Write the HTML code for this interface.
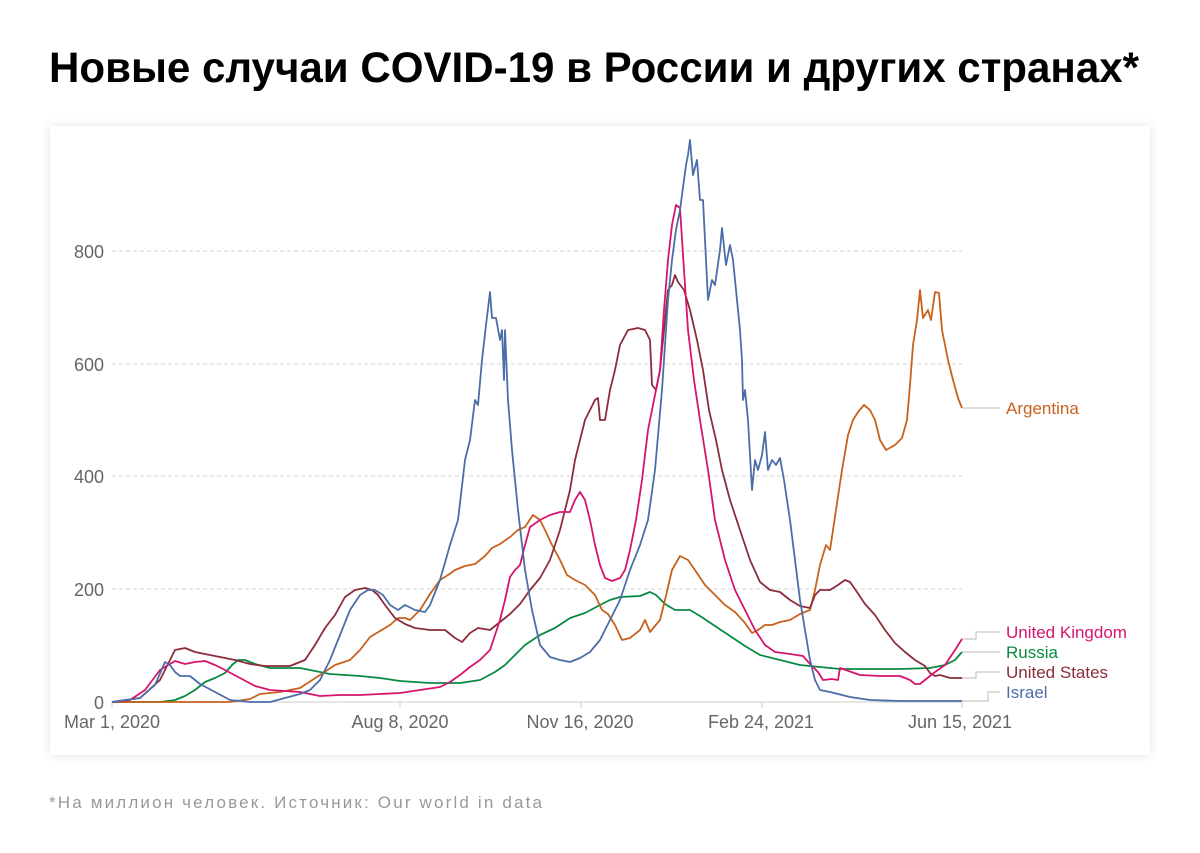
<!DOCTYPE html>
<html><head><meta charset="utf-8"><style>
html,body{margin:0;padding:0;background:#fff;width:1200px;height:853px;overflow:hidden}
svg{display:block}
</style></head><body>
<svg width="1200" height="853" viewBox="0 0 1200 853" xmlns="http://www.w3.org/2000/svg" font-family="Liberation Sans, DejaVu Sans, sans-serif">
<defs><filter id="sh" x="-5%" y="-5%" width="110%" height="110%"><feGaussianBlur stdDeviation="5"/></filter></defs>
<text x="49" y="82" font-size="43" font-weight="bold" fill="#000" textLength="1090" lengthAdjust="spacingAndGlyphs">Новые случаи COVID-19 в России и других странах*</text>
<rect x="50" y="127" width="1100" height="628" fill="#000" opacity="0.12" filter="url(#sh)"/>
<rect x="50" y="126" width="1100" height="629" fill="#fff"/>
<g stroke="#d6d6d6" stroke-dasharray="4,3" stroke-width="1">
<line x1="112" y1="251" x2="962" y2="251"/><line x1="112" y1="364" x2="962" y2="364"/>
<line x1="112" y1="476" x2="962" y2="476"/><line x1="112" y1="589" x2="962" y2="589"/>
</g>
<line x1="112" y1="702" x2="962" y2="702" stroke="#ccc"/>
<g stroke="#ccc"><line x1="112" y1="702" x2="112" y2="708"/><line x1="400" y1="702" x2="400" y2="708"/><line x1="581" y1="702" x2="581" y2="708"/><line x1="762" y1="702" x2="762" y2="708"/><line x1="962" y1="702" x2="962" y2="708"/></g>
<g fill="#666" font-size="18" text-anchor="end">
<text x="104" y="258">800</text><text x="104" y="371">600</text><text x="104" y="483">400</text><text x="104" y="596">200</text><text x="104" y="709">0</text></g>
<g fill="#666" font-size="18" text-anchor="middle">
<text x="112" y="728">Mar 1, 2020</text><text x="400" y="728">Aug 8, 2020</text><text x="580" y="728">Nov 16, 2020</text><text x="761" y="728">Feb 24, 2021</text><text x="960" y="728">Jun 15, 2021</text></g>
<g fill="none" stroke-width="1.8" stroke-linejoin="round">
<polyline stroke="#0a8a40" points="112,702 160,702 175,700 185,696 195,690 205,682 215,678 225,673 232,665 238,660 245,660 255,664 270,668 300,668 310,670 330,674 360,676 380,678 400,681 430,683 460,683 480,680 495,672 505,665 515,655 525,645 540,635 555,628 570,618 585,613 600,605 610,600 620,597 640,596 650,592 656,595 665,604 675,610 690,610 700,616 715,626 730,636 745,646 760,655 780,660 800,665 820,667 840,669 870,669 900,669 930,668 945,665 955,660 962,652"/>
<polyline stroke="#c8611c" points="112,702 230,702 250,699 260,694 280,692 300,688 320,675 335,665 350,660 360,650 370,637 380,631 390,625 398,618 405,618 410,620 420,610 430,594 440,580 448,575 455,570 465,566 475,564 485,556 492,548 500,544 510,537 518,530 525,527 533,515 540,520 545,530 552,545 560,560 567,575 575,580 585,585 595,595 602,610 608,614 615,625 622,640 630,638 640,630 645,620 650,632 660,620 665,600 672,570 680,556 688,560 695,570 705,585 715,595 725,605 735,612 745,623 752,633 758,630 765,625 772,625 780,622 790,620 800,614 810,610 815,590 820,565 826,545 830,550 836,510 842,470 848,435 853,420 858,412 864,405 870,410 875,420 880,440 886,450 895,445 902,438 907,420 910,385 913,345 917,320 920,290 923,318 928,310 931,320 935,292 939,293 942,330 948,360 953,380 958,398 962,408"/>
<polyline stroke="#8b2d3a" points="112,702 140,698 160,680 175,650 185,648 195,652 210,655 225,658 235,660 250,664 265,666 290,666 305,660 315,645 325,628 335,615 345,597 355,590 365,588 372,590 378,595 385,605 395,618 405,624 415,628 430,630 445,630 455,638 462,642 470,633 478,628 490,630 500,622 510,614 520,604 530,590 540,578 550,560 560,530 570,490 575,460 580,440 585,420 590,410 595,400 598,398 600,420 605,420 610,390 615,370 620,345 628,330 638,328 645,330 650,340 652,385 656,390 660,370 664,330 668,290 672,285 675,275 678,282 684,290 690,310 697,340 703,370 709,410 716,440 722,470 730,500 740,530 750,560 760,582 770,590 780,592 790,600 800,606 810,608 815,595 820,590 830,590 838,585 845,580 850,582 857,592 865,604 875,615 885,630 895,643 905,652 915,660 925,666 930,673 935,676 940,675 950,678 962,678"/>
<polyline stroke="#d6146e" points="112,702 130,700 145,690 160,670 175,661 185,664 195,662 205,661 215,665 225,670 240,678 255,686 270,690 285,691 300,692 310,694 320,696 340,695 360,695 380,694 400,693 420,690 440,687 450,682 460,675 470,667 480,660 490,650 495,635 500,620 505,600 510,577 515,570 520,565 525,545 530,527 540,520 550,515 560,512 570,512 575,500 580,492 585,500 590,520 595,545 600,565 605,578 612,581 620,578 625,570 630,550 636,520 642,480 648,430 652,410 656,390 660,370 664,310 668,260 672,225 676,205 680,208 684,270 688,330 694,380 700,420 708,470 715,520 725,560 735,590 745,610 755,630 765,645 775,652 790,654 803,656 810,664 818,672 823,680 832,679 838,680 840,668 860,675 880,676 900,676 910,680 915,684 920,684 925,680 935,672 945,665 955,650 962,639"/>
<polyline stroke="#4c6ea8" points="112,702 140,698 155,685 165,662 170,665 175,672 180,676 190,676 200,684 215,692 230,700 250,702 270,702 285,698 300,694 310,690 320,680 330,660 340,635 350,610 360,595 368,590 375,590 383,595 390,605 398,610 405,605 415,610 425,612 430,605 440,580 450,545 458,520 465,460 470,440 475,400 478,405 482,360 486,325 490,292 492,318 496,318 500,340 502,330 504,380 505,330 508,400 512,450 518,510 525,570 532,610 540,645 550,657 560,660 570,662 580,658 590,652 600,640 610,620 620,600 630,570 640,545 648,520 655,470 662,390 668,300 672,260 676,230 680,210 684,180 686,165 688,155 690,140 693,175 697,160 700,200 703,200 706,260 708,300 712,280 715,285 720,250 722,228 726,265 730,245 733,260 736,290 740,330 742,360 743,400 745,390 748,420 752,490 755,460 758,470 762,455 765,432 768,470 772,460 776,465 780,458 784,480 790,520 795,560 800,600 805,630 810,660 815,680 820,690 830,692 850,697 870,700 900,701 962,701"/>
</g>
<g fill="none" stroke="#bbb" stroke-width="1">
<polyline points="962,408 1000,408"/>
<polyline points="962,639 976,639 976,632 1000,632"/>
<polyline points="962,652 1000,652"/>
<polyline points="962,678 976,678 976,672 1000,672"/>
<polyline points="962,701 988,701 988,692 1000,692"/>
</g>
<g font-size="17">
<text x="1006" y="414" fill="#c8611c">Argentina</text>
<text x="1006" y="638" fill="#d6146e">United Kingdom</text>
<text x="1006" y="658" fill="#0a8a40">Russia</text>
<text x="1006" y="678" fill="#8b2d3a">United States</text>
<text x="1006" y="698" fill="#4c6ea8">Israel</text>
</g>
<text x="49" y="808" font-size="17" fill="#999" textLength="493" lengthAdjust="spacing">*На миллион человек. Источник: Our world in data</text>
</svg>
</body></html>
